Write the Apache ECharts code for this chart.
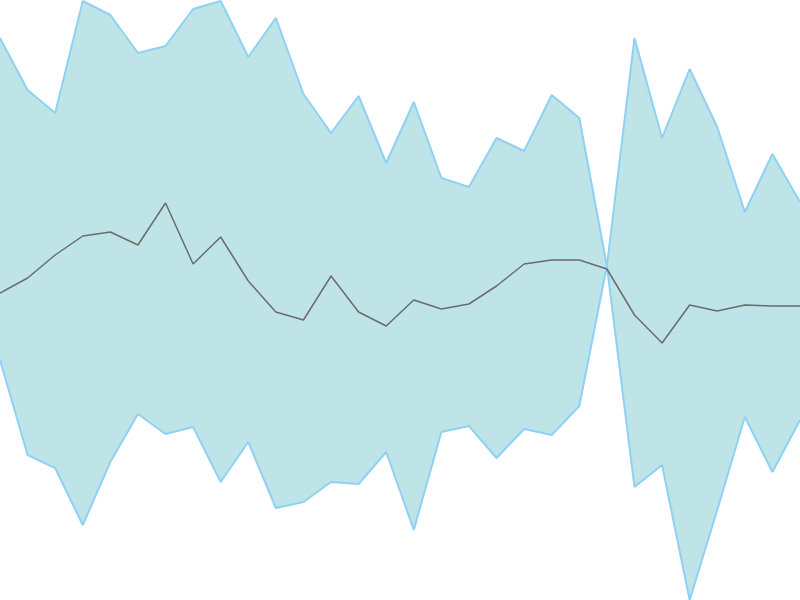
<!DOCTYPE html>
<html>
<head>
<meta charset="utf-8">
<script src="https://cdn.jsdelivr.net/npm/echarts@6/dist/echarts.min.js"></script>
<style>html,body{margin:0;padding:0;background:#fff}#c{width:800px;height:600px}</style>
</head>
<body>
<div id="c"></div>
<script>
var categories = ['1','2','3','4','5','6','7','8','9','10','11','12','13','14','15','16','17','18','19','20','21','22','23','24','25','26','27','28','29','30'];
var upper = [562,510,487,599,585,547,554,591,599,543,582,506,467,504,437,498,422,413,462,449,505,482,334,562,462,531,473,388,446,398];
var middle = [307,322,345,364,368,355,397,336,363,319,288,280,324,288,274,300,291,296,314,336,340,340,331,285,257,295,289,295,294,294];
var lower = [240,145,132,75,138,186,166,173,118,158,92,98,118,116,148,70,168,174,142,171,165,194,334,113,135,0,90,183,128,180];

var diff = upper.map(function (u, i) { return u - lower[i]; });
var edge = '#8fd1f4';
var chart = echarts.init(document.getElementById('c'));
chart.setOption({
  animation: false,
  grid: { left: 0, right: 0, top: 0, bottom: 0 },
  xAxis: { type: 'category', data: categories, boundaryGap: false, show: false },
  yAxis: { type: 'value', min: 0, max: 600, show: false },
  series: [
    { name: 'L', type: 'line', data: lower, stack: 'band', symbol: 'none',
      lineStyle: { color: edge, width: 2 }, areaStyle: { opacity: 0 } },
    { name: 'U', type: 'line', data: diff, stack: 'band', symbol: 'none',
      lineStyle: { color: edge, width: 2 }, areaStyle: { color: '#bee4e8', opacity: 1 } },
    { name: 'M', type: 'line', data: middle, symbol: 'none',
      lineStyle: { color: '#6b6b6b', width: 1.5 } }
  ]
});
</script>
</body>
</html>
